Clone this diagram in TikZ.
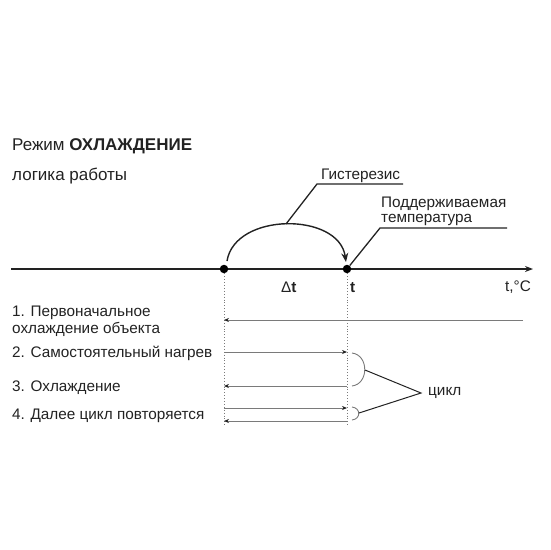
\documentclass[tikz,border=0pt]{standalone}
\usepackage{fontspec}
\setmainfont{Liberation Sans}
\usepackage{xcolor}
\usepackage{tikz}
\usetikzlibrary{arrows.meta, positioning}

\definecolor{ink}{HTML}{222222}
\definecolor{guide}{HTML}{7A7A7A}

\begin{document}
\begin{tikzpicture}[
    x=1pt, y=-1pt,
    txt/.style={anchor=base west, inner sep=0pt, font=\fontsize{15.3}{18}\selectfont, text=ink},
    head/.style={txt, font=\fontsize{17}{20}\selectfont},
    dot/.style={circle, fill=black, inner sep=0pt, minimum size=8.5pt},
    axis/.style={-{Stealth[length=8pt, width=6pt]}, line width=1.6pt, ink},
    hyst/.style={-{Stealth[length=9pt, width=7pt]}, line width=1.4pt, ink},
    leader/.style={line width=1.3pt, ink},
    vline/.style={dotted, line width=0.9pt, guide},
    arr/.style={-{Stealth[length=5pt, width=4pt, color=ink]}, line width=0.8pt, guide},
    brace/.style={line width=0.9pt, guide},
]
\useasboundingbox (0,0) rectangle (550,550);

% Title
\node[head] (mode) at (12,150) {Режим \textbf{ОХЛАЖДЕНИЕ}};
\node[head] (logic) at (12,180) {логика работы};

% Axis
\coordinate (ax0) at (11,269);
\coordinate (ax1) at (533,269);
\draw[axis] (ax0) -- (ax1);
\node[dot] (d1) at (224,269) {};
\node[dot] (d2) at (347,269) {};
\node[txt] (dt) at (281,292) {Δ\textbf{t}};
\node[txt, font=\fontsize{15.3}{18}\selectfont\bfseries] (t) at (350,292) {t};
\node[txt] (tc) at (505,291) {t,°C};

% Hysteresis
\coordinate (hs) at (227,261);
\coordinate (he) at (346,262);
\coordinate (htop) at (286,224);
\coordinate (hk) at (317,184);
\coordinate (hr) at (403,184);
\draw[hyst] (hs) .. controls (235,212) and (339,212) .. (he);
\draw[leader] (htop) -- (hk) -- (hr);
\node[txt] (hlbl) at (321,179) {Гистерезис};

% Set temperature
\coordinate (sk) at (380,228);
\coordinate (sr) at (507,228);
\draw[leader] (d2) -- (sk) -- (sr);
\node[txt] (set1) at (381,207) {Поддерживаемая};
\node[txt] (set2) at (381,222) {температура};

% Guides
\coordinate (g1) at (224,426);
\coordinate (g2) at (347,426);
\draw[vline] (d1) -- (g1);
\draw[vline] (d2) -- (g2);

% Steps
\node[txt] (s1a) at (12,316) {1. Первоначальное};
\node[txt] (s1b) at (12,333) {охлаждение объекта};
\node[txt] (s2) at (12,357) {2. Самостоятельный нагрев};
\node[txt] (s3) at (12,391) {3. Охлаждение};
\node[txt] (s4) at (12,419) {4. Далее цикл повторяется};

% Arrows
\coordinate (a1r) at (523,320);
\coordinate (a1l) at (224,320);
\coordinate (a2l) at (224,352);
\coordinate (a2r) at (347,352);
\coordinate (a3r) at (347,386);
\coordinate (a3l) at (224,386);
\coordinate (a4l) at (224,408);
\coordinate (a4r) at (347,408);
\coordinate (a5r) at (347,421);
\coordinate (a5l) at (224,421);
\draw[arr] (a1r) -- (a1l);
\draw[arr] (a2l) -- (a2r);
\draw[arr] (a3r) -- (a3l);
\draw[arr] (a4l) -- (a4r);
\draw[arr] (a5r) -- (a5l);

% Cycle
\coordinate (b1s) at (352,353);
\coordinate (b1e) at (352,386);
\coordinate (b1m) at (365,370);
\coordinate (b2s) at (352,407);
\coordinate (b2e) at (352,420);
\coordinate (b2m) at (359,413);
\coordinate (cj) at (421,393);
\draw[brace] (b1s) .. controls (369,355) and (369,384) .. (b1e);
\draw[brace] (b2s) .. controls (361,408) and (361,419) .. (b2e);
\draw[leader, line width=1pt] (b1m) -- (cj) -- (b2m);
\node[txt, anchor=west, right=7pt of cj] (cyc) {цикл};
\end{tikzpicture}
\end{document}
